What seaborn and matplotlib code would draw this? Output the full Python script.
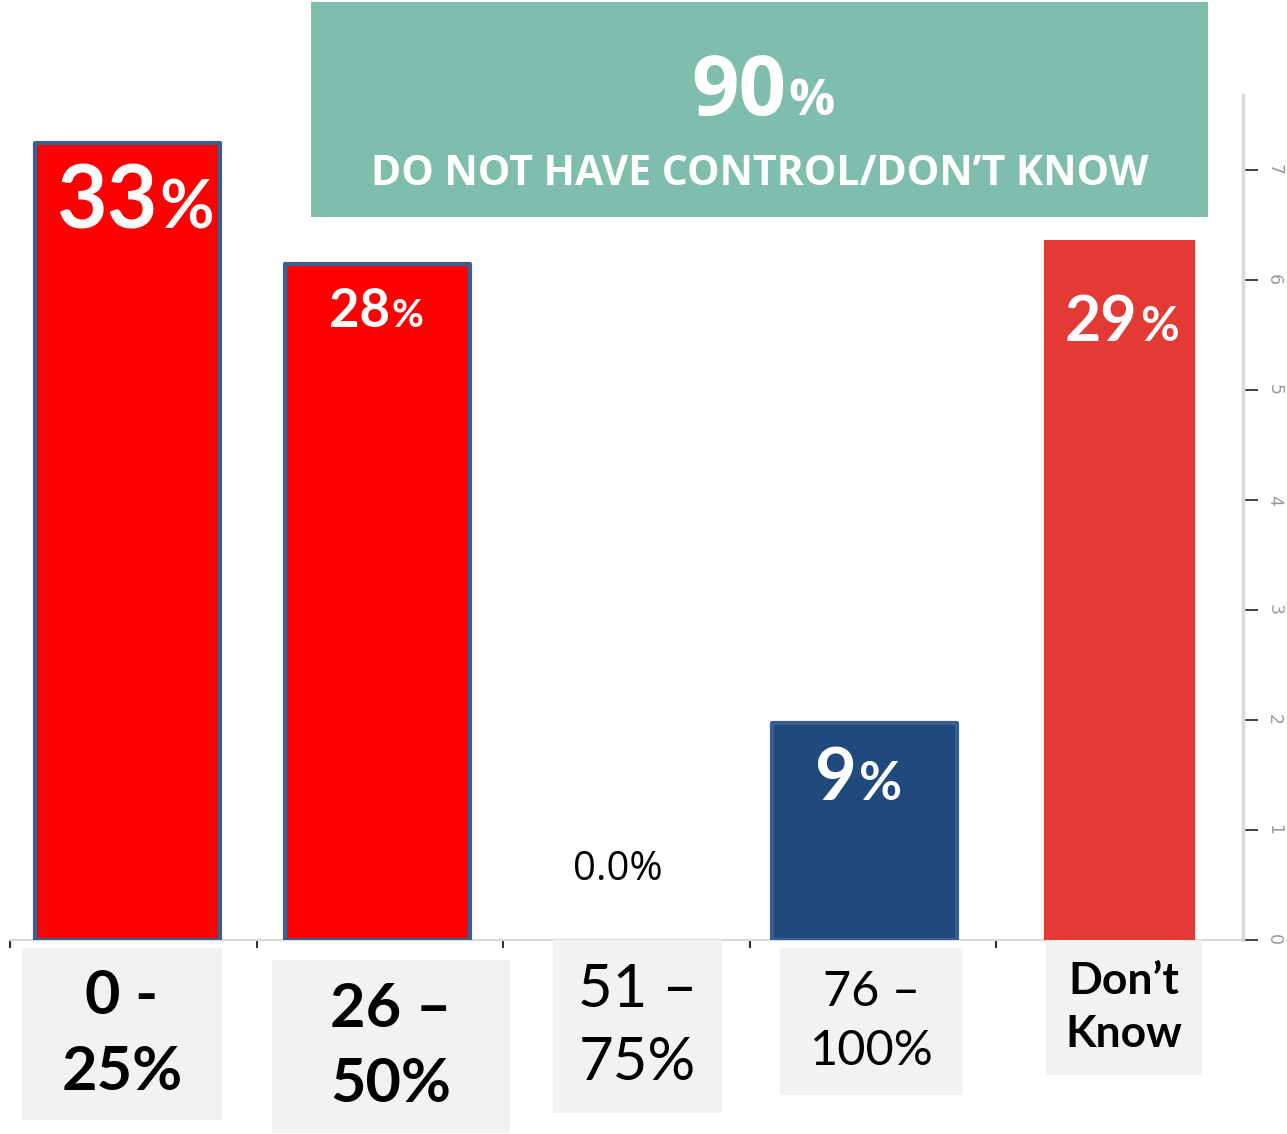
import matplotlib
matplotlib.use("Agg")
import matplotlib.pyplot as plt
from matplotlib.patches import Rectangle
import pandas as pd
import seaborn as sns

# ---- data ----
categories = ["0 -\n25%", "26 \u2013\n50%", "51 \u2013\n75%", "76 \u2013\n100%", "Don\u2019t\nKnow"]
shares = [33, 28, 0, 9, 29]
bar_colors = ["#ff0000", "#ff0000", "#ff0000", "#214a7c", "#e43a35"]
edge_colors = ["#3c5f8c", "#3c5f8c", "none", "#3a5f90", "none"]
label_bold = [True, True, False, False, True]
right_ticks = [0, 1, 2, 3, 4, 5, 6, 7]
headline_value = 90
headline_text = "DO NOT HAVE CONTROL/DON\u2019T KNOW"

W, H = 1287, 1134
sns.set_theme(style="white")
plt.rcParams["font.family"] = ["Lato", "DejaVu Sans"]

fig = plt.figure(figsize=(W / 100, H / 100), dpi=100)
fig.patch.set_facecolor("white")


def fx(px):
    return px / W


def fy(py):
    return 1 - py / H


ax = fig.add_axes([fx(10), fy(940), fx(1243) - fx(10), fy(95) - fy(940)])
df = pd.DataFrame({"category": categories, "share": shares})
sns.barplot(data=df, x="category", y="share", hue="category", palette=bar_colors,
            legend=False, width=0.75, saturation=1, ax=ax, zorder=3)

for i, patch in enumerate(ax.patches):
    ec = edge_colors[i]
    if ec != "none":
        patch.set_edgecolor(ec)
        patch.set_linewidth(3.0)
        patch.set_joinstyle("round")
    else:
        patch.set_linewidth(0)
# small horizontal nudges per bar, last bar narrower
nudges = [-0.025, -0.01, 0.0, -0.035, 0.0]
for patch, dx in zip(ax.patches, nudges):
    patch.set_x(patch.get_x() + dx)
last = ax.patches[4]
cx = last.get_x() + last.get_width() / 2
last.set_width(0.61)
last.set_x(cx - 0.305)

ax.set_xlim(-0.5, 4.5)
ax.set_ylim(0, 35)
ax.set_xlabel("")
ax.set_ylabel("")
ax.set_yticks([])
ax.set_xticks([-0.5, 0.5, 1.5, 2.5, 3.5])
ax.set_xticklabels([])
ax.tick_params(axis="x", direction="out", length=6, width=1.5, color="#333333", bottom=True)
for s in ["left", "top", "right"]:
    ax.spines[s].set_visible(False)
ax.spines["bottom"].set_color("#d9d9d9")
ax.spines["bottom"].set_linewidth(1.5)
ax.patch.set_alpha(0)

# secondary scale on the right
ax2 = ax.twinx()
ax2.set_ylim(0, 845 / 110)
ax2.set_yticks(right_ticks)
ax2.set_yticklabels([str(t) for t in right_ticks], rotation=-90, va="center",
                    color="#9a9a9a", fontsize=12.5, family="DejaVu Sans")
ax2.tick_params(axis="y", direction="out", length=11, width=1.3, color="#333333",
                pad=5, right=True)
for s in ["left", "top", "bottom"]:
    ax2.spines[s].set_visible(False)
ax2.spines["right"].set_color("#d9d9d9")
ax2.spines["right"].set_linewidth(2.5)
ax2.grid(False)
ax.grid(False)

# value labels inside the bars: (x offset px, y offset px below top, number size, % size)
label_style = {
    0: (24, -85, 63, 48),
    1: (10, -63, 38, 28),
    3: (-16, -77, 52, 38),
    4: (18, -101, 45, 34),
}
for i, v in enumerate(shares):
    if i in label_style:
        dx, dy, s_num, s_pct = label_style[i]
        ax.annotate(str(v), xy=(i, v), xytext=(dx, dy), textcoords="offset pixels",
                    ha="right", va="baseline", color="white", fontsize=s_num,
                    fontweight="bold", zorder=5)
        ax.annotate("%", xy=(i, v), xytext=(dx + 2, dy), textcoords="offset pixels",
                    ha="left", va="baseline", color="white", fontsize=s_pct,
                    fontweight="bold", zorder=5)
    else:
        ax.annotate(f"{v:.1f}%", xy=(i, v), xytext=(-9, 60), textcoords="offset pixels",
                    ha="center", va="baseline", color="black", fontsize=29,
                    family="Open Sans", zorder=5)

# category labels in grey boxes
boxes = [(22, 948, 222, 1120), (272, 960, 510, 1133), (553, 940, 722, 1113),
         (780, 948, 963, 1095), (1046, 940, 1202, 1075)]
label_sizes = [44, 44, 43, 35, 32]
for cat, (x0, y0, x1, y1), fs, bold in zip(categories, boxes, label_sizes, label_bold):
    fig.add_artist(Rectangle((fx(x0), fy(y1)), fx(x1) - fx(x0), fy(y0) - fy(y1),
                             transform=fig.transFigure, facecolor="#f2f2f2",
                             edgecolor="none", zorder=1))
    fig.text(fx((x0 + x1) / 2), fy((y0 + y1) / 2), cat, ha="center", va="center",
             multialignment="center", fontsize=fs, linespacing=1.42,
             fontweight="bold" if bold else "normal", color="black", zorder=2)

# headline banner
fig.add_artist(Rectangle((fx(311), fy(217)), fx(1208) - fx(311), fy(2) - fy(217),
                         transform=fig.transFigure, facecolor="#7fbead",
                         edgecolor="none", zorder=4))
fig.text(fx(786), fy(115), str(headline_value), ha="right", va="baseline",
         fontsize=60, fontweight="bold", color="white", family="Open Sans", zorder=5)
fig.text(fx(788), fy(115), "%", ha="left", va="baseline",
         fontsize=37, fontweight="bold", color="white", family="Open Sans", zorder=5)
fig.text(fx(760), fy(185), headline_text, ha="center", va="baseline",
         fontsize=29.5, fontweight="bold", color="white", family="Open Sans", zorder=5)

fig.savefig("out.png", dpi=100, facecolor="white")
